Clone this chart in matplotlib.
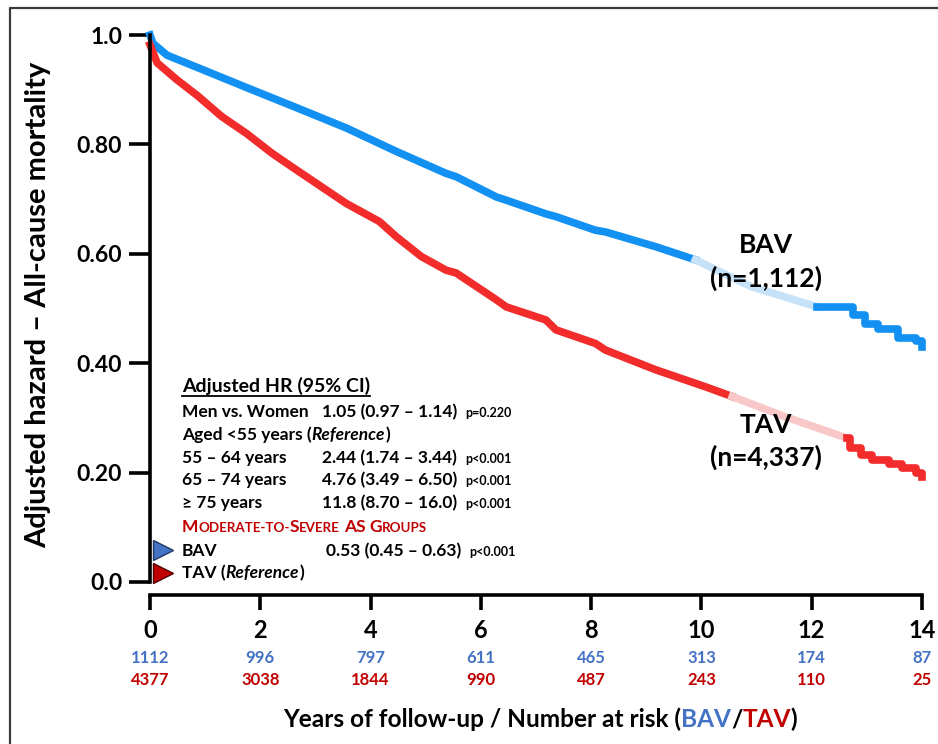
import matplotlib
matplotlib.use("Agg")
import matplotlib.pyplot as plt
import matplotlib.transforms as mtransforms
from matplotlib.lines import Line2D
import numpy as np

plt.rcParams["font.family"] = ["Lato", "DejaVu Sans"]

W, H = 938, 744  # output size in pixels

# number at risk table
years = [0, 2, 4, 6, 8, 10, 12, 14]
risk_bav = [1112, 996, 797, 611, 465, 313, 174, 87]
risk_tav = [4377, 3038, 1844, 990, 487, 243, 110, 25]

y_ticks = [0.0, 0.2, 0.4, 0.6, 0.8, 1.0]
y_tick_labels = ["0.0", "0.20", "0.40", "0.60", "0.80", "1.0"]

# adjusted curves
bav_time = [0, 0.05, 0.31, 0.85, 1.75, 2.66, 3.56, 4.47, 5.37, 5.55, 6.28, 6.46,
            7.18, 7.36, 8.08, 8.26, 9.17, 9.89, 10.9, 12.1,
            12.66, 12.75, 12.97, 13.2, 13.56, 13.9, 14.0]
bav_surv = [1.0, 0.985, 0.963, 0.941, 0.904, 0.867, 0.830, 0.787, 0.747, 0.741, 0.704, 0.698,
            0.673, 0.668, 0.643, 0.640, 0.613, 0.589, 0.540, 0.503,
            0.503, 0.488, 0.472, 0.462, 0.446, 0.440, 0.429]
bav_fade = (9.89, 12.1)

tav_time = [0, 0.13, 0.49, 0.85, 1.30, 1.75, 2.21, 2.66, 3.56, 4.16, 4.47, 4.92, 5.37,
            5.55, 6.28, 6.46, 7.18, 7.36, 8.08, 8.26, 9.17, 10.07, 10.56, 11.52, 12.64,
            12.7, 12.9, 13.1, 13.4, 13.63, 13.9, 14.0]
tav_surv = [0.982, 0.949, 0.918, 0.890, 0.851, 0.820, 0.784, 0.753, 0.692, 0.659, 0.631, 0.595, 0.570,
            0.565, 0.516, 0.503, 0.479, 0.461, 0.436, 0.424, 0.388, 0.357, 0.339, 0.302, 0.263,
            0.245, 0.232, 0.223, 0.215, 0.208, 0.200, 0.192]
tav_fade = (10.56, 12.64)

# hazard ratio box
hr_rows = [
    ("Men vs. Women", "1.05 (0.97 \u2013 1.14)", "p=0.220"),
    ("55 \u2013 64 years", "2.44 (1.74 \u2013 3.44)", "p<0.001"),
    ("65 \u2013 74 years", "4.76 (3.49 \u2013 6.50)", "p<0.001"),
    ("\u2265 75 years", "11.8 (8.70 \u2013 16.0)", "p<0.001"),
]
bav_hr = ("BAV", "0.53 (0.45 \u2013 0.63)", "p<0.001")

BLUE = "#1391F2"
BLUE_LIGHT = "#C6E2F8"
RED = "#F22B2B"
RED_LIGHT = "#F8C8C8"
TXT_BLUE = "#4472C4"
TXT_RED = "#C00000"
LW = 5.5
ROW = 12.5


def fx(px):
    return px / W


def fy(py):
    return 1 - py / H


fig = plt.figure(figsize=(W / 100, H / 100), dpi=100)
ax = fig.add_axes([fx(150), fy(582), 772 / W, 547 / H])
renderer = fig.canvas.get_renderer()


def draw_curve(t, s, fade, dark, light):
    t = np.asarray(t)
    s = np.asarray(s)
    a = t <= fade[0]
    b = (t >= fade[0]) & (t <= fade[1])
    c = t >= fade[1]
    ax.plot(t[a], s[a], color=dark, lw=LW, clip_on=False, solid_joinstyle="round")
    ax.plot(t[b], s[b], color=light, lw=LW, clip_on=False)
    ax.plot(t[c], s[c], color=dark, lw=LW, drawstyle="steps-post", clip_on=False)


draw_curve(bav_time, bav_surv, bav_fade, BLUE, BLUE_LIGHT)
draw_curve(tav_time, tav_surv, tav_fade, RED, RED_LIGHT)

ax.set_xlim(0, 14)
ax.set_ylim(0, 1)
ax.spines["top"].set_visible(False)
ax.spines["right"].set_visible(False)
ax.spines["left"].set_linewidth(2.6)
ax.spines["bottom"].set_linewidth(2.6)
ax.spines["bottom"].set_position(("outward", 9.5))
ax.spines["bottom"].set_bounds(0, 14)
ax.set_xticks(years)
ax.set_xticklabels([str(y) for y in years])
ax.set_yticks(y_ticks)
ax.set_yticklabels(y_tick_labels)
ax.tick_params(axis="y", length=15, width=2.6, pad=5, labelsize=16.5)
ax.tick_params(axis="x", length=11, width=2.6, pad=6, labelsize=17)
for lab in ax.get_xticklabels() + ax.get_yticklabels():
    lab.set_fontweight("bold")

# number at risk
trans = mtransforms.blended_transform_factory(ax.transData, fig.transFigure)
for yr, nb, nt in zip(years, risk_bav, risk_tav):
    ax.text(yr, fy(663), str(nb), transform=trans, ha="center", va="baseline",
            fontsize=12, fontweight="bold", color=TXT_BLUE)
    ax.text(yr, fy(685), str(nt), transform=trans, ha="center", va="baseline",
            fontsize=12, fontweight="bold", color=TXT_RED)


def chain(x_px, y_px, pieces):
    # pieces: (text, size, colour, italic, extra gap in px)
    for s, size, color, italic, gap in pieces:
        t = fig.text(fx(x_px), fy(y_px), s, fontsize=size, color=color, fontweight="bold",
                     fontstyle="italic" if italic else "normal", ha="left", va="baseline")
        x_px += t.get_window_extent(renderer).width + gap
    return x_px


# x label with coloured group names
XL = 17.6
chain(283, 727, [
    ("Years of follow-up / Number at risk (", XL, "black", False, 0),
    ("BAV", XL, TXT_BLUE, False, 0),
    ("/", XL, "black", False, 0),
    ("TAV", XL, TXT_RED, False, 0),
    (")", XL, "black", False, 0),
])

fig.text(fx(38), fy(305), "Adjusted hazard \u2013 All-cause mortality", rotation=90,
         ha="center", va="center", fontsize=21, fontweight="bold")

# curve labels
fig.text(fx(766), fy(253), "BAV", ha="center", va="baseline", fontsize=19, fontweight="bold")
fig.text(fx(766), fy(287), "(n=1,112)", ha="center", va="baseline", fontsize=19, fontweight="bold")
fig.text(fx(766), fy(433), "TAV", ha="center", va="baseline", fontsize=19, fontweight="bold")
fig.text(fx(766), fy(466), "(n=4,337)", ha="center", va="baseline", fontsize=19, fontweight="bold")

# HR box
x0 = 182
end = chain(x0, 392, [("Adjusted HR (95% CI)", 14, "black", False, 0)])
fig.add_artist(Line2D([fx(x0), fx(end)], [fy(396), fy(396)], color="black", lw=1.3,
                      transform=fig.transFigure))

row_y = [417, 463, 485, 508]
for (lab, val, p), yy in zip(hr_rows, row_y):
    fig.text(fx(x0), fy(yy), lab, fontsize=ROW, fontweight="bold", va="baseline")
    fig.text(fx(322), fy(yy), val, fontsize=ROW, fontweight="bold", va="baseline")
    fig.text(fx(465), fy(yy), p, fontsize=9, fontweight="bold", va="baseline")

chain(x0, 440, [("Aged <55 years (", ROW, "black", False, 0),
                ("Reference", ROW, "black", True, 0),
                (")", ROW, "black", False, 0)])

chain(x0, 532, [("M", ROW, TXT_RED, False, 0),
                ("ODERATE-TO-", 9.6, TXT_RED, False, 0),
                ("S", ROW, TXT_RED, False, 0),
                ("EVERE", 9.6, TXT_RED, False, 4),
                ("AS", ROW, TXT_RED, False, 4),
                ("G", ROW, TXT_RED, False, 0),
                ("ROUPS", 9.6, TXT_RED, False, 0)])

fig.text(fx(x0), fy(556), bav_hr[0], fontsize=ROW, fontweight="bold", va="baseline")
fig.text(fx(326), fy(556), bav_hr[1], fontsize=ROW, fontweight="bold", va="baseline")
fig.text(fx(469), fy(556), bav_hr[2], fontsize=9, fontweight="bold", va="baseline")
chain(x0, 578, [("TAV (", ROW, "black", False, 0),
                ("Reference", ROW, "black", True, 0),
                (")", ROW, "black", False, 0)])

fig.add_artist(Line2D([fx(163)], [fy(550)], marker=">", ms=14, linestyle="none",
                      mfc=TXT_BLUE, mec="#1F3864", mew=1, transform=fig.transFigure))
fig.add_artist(Line2D([fx(163)], [fy(573)], marker=">", ms=14, linestyle="none",
                      mfc=TXT_RED, mec="#500000", mew=1, transform=fig.transFigure))

# outer frame (only top and left edges show)
fig.add_artist(Line2D([fx(10), fx(10), 1], [0, fy(8), fy(8)], color="#3a3a3a", lw=1.6,
                      transform=fig.transFigure))

fig.savefig("out.png", dpi=100)
